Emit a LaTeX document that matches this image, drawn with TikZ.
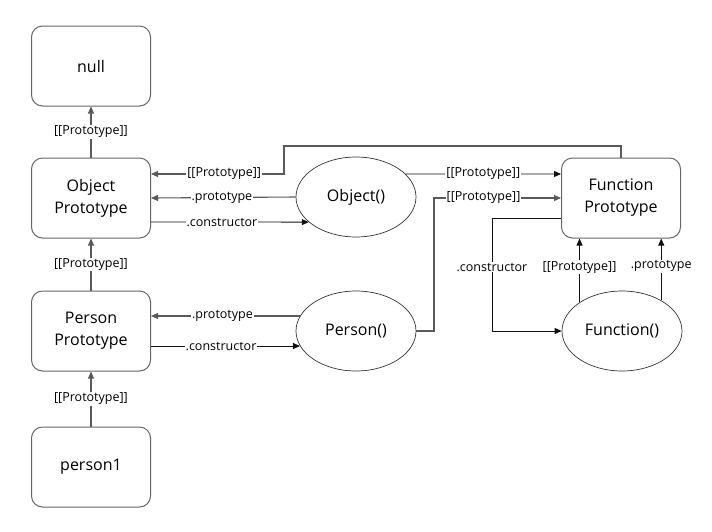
\documentclass[tikz,border=0pt]{standalone}
\usepackage{fontspec}
\setmainfont{Open Sans}
\usetikzlibrary{shapes.geometric,arrows.meta}
\definecolor{boxc}{HTML}{666666}
\definecolor{ellc}{HTML}{333333}
\definecolor{linec}{HTML}{5A5A5A}
\definecolor{darkc}{HTML}{111111}
\tikzset{
  box/.style={draw=boxc, line width=1pt, rounded corners=11pt, minimum width=119pt, minimum height=80pt, align=center, inner sep=0pt, font=\fontsize{16}{22}\selectfont},
  ell/.style={draw=ellc, line width=0.7pt, ellipse, minimum width=120pt, minimum height=80pt, inner sep=0pt, font=\fontsize{16}{22}\selectfont},
  lab/.style={fill=white, inner sep=1pt, font=\fontsize{12.5}{14}\selectfont},
  arr/.style={draw=linec, line width=1.1pt, -{Triangle[length=7pt,width=6pt]}},
  arrd/.style={draw=darkc, line width=0.8pt, -{Triangle[length=7pt,width=6pt]}}
}
\begin{document}
\begin{tikzpicture}[x=1pt,y=-1pt]
\useasboundingbox (0,0) rectangle (712,531);
% nodes
\node[box] (null) at (91,66) {null};
\node[box] (objp) at (91,198) {Object\\Prototype};
\node[box] (perp) at (91,331) {Person\\Prototype};
\node[box] (p1) at (91,467) {person1};
\node[box] (fp) at (621,198) {Function\\Prototype};
\node[ell] (objf) at (356,197) {Object()};
\node[ell] (perf) at (356,331) {Person()};
\node[ell] (funf) at (622,331) {Function()};
% left column
\draw[arr] (objp.north) -- node[lab]{[[Prototype]]} (null.south);
\draw[arr] (perp.north) -- node[lab]{[[Prototype]]} (objp.south);
\draw[arr] (p1.north) -- node[lab]{[[Prototype]]} (perp.south);
% Function Prototype -> Object Prototype
\draw[arr] (fp.north) -- (621,146) -- (284,146) -- (284,174) -- node[lab,pos=0.45]{[[Prototype]]} ([yshift=24pt]objp.east);
% Object()
\draw[arr] (objf.west) -- node[lab,pos=0.51]{.prototype} (objp.east);
\draw[arrd] ([yshift=-24pt]objp.east) -- node[lab,pos=0.45]{.constructor} (objf.208);
\draw[arrd] (objf.25) -- node[lab]{[[Prototype]]} ([yshift=24pt]fp.west);
% Person()
\draw[arr] (perf.east) -- (434,331) -- (434,198) -- node[lab,pos=0.39]{[[Prototype]]} (fp.west);
\draw[arr] (perf.165) -- node[lab,pos=0.52]{.prototype} (perf.165 -| perp.east);
\draw[arrd] (perf.195 -| perp.east) -- node[lab,pos=0.47]{.constructor} (perf.195);
% Function()
\draw[arrd] ([yshift=-20pt]fp.west) -- (492,218) -- (492,331) -- (funf.west);
\node[lab] (lc) at (492,267) {.constructor};
\draw[arrd] (funf.146) -- node[lab,pos=0.55]{[[Prototype]]} (funf.146 |- fp.south);
\draw[arrd] (funf.38) -- node[lab,pos=0.55]{.prototype} (funf.38 |- fp.south);
\end{tikzpicture}
\end{document}
